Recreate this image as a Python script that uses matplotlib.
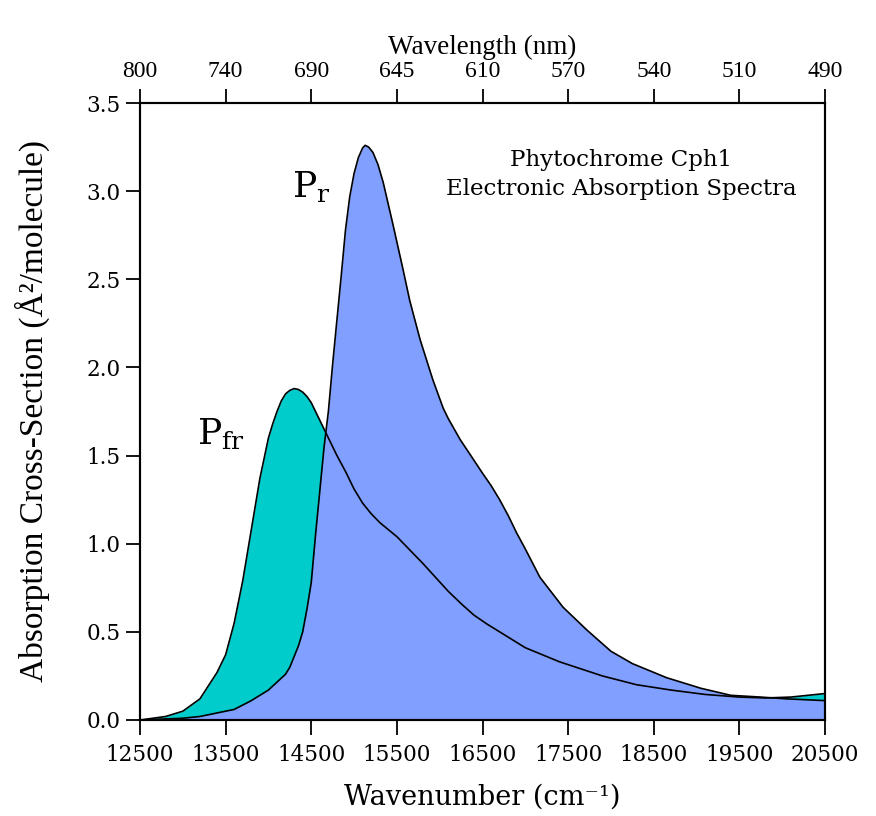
import matplotlib
matplotlib.use("Agg")
import matplotlib.pyplot as plt
import numpy as np

# wavenumber (cm-1) and absorption cross-section (A^2/molecule)
pfr_wn = [12500, 12800, 13000, 13200, 13400, 13500, 13600, 13700, 13800, 13900,
          14000, 14050, 14100, 14150, 14200, 14250, 14300, 14350, 14400, 14450,
          14500, 14600, 14700, 14800, 14900, 15000, 15100, 15200, 15300, 15400,
          15500, 15600, 15700, 15800, 15950, 16100, 16250, 16400, 16550, 16700,
          16850, 17000, 17200, 17400, 17650, 17900, 18300, 18700, 19100, 19500,
          19800, 20100, 20300, 20500]
pfr_val = [0.0, 0.02, 0.05, 0.12, 0.27, 0.37, 0.55, 0.79, 1.08, 1.37,
           1.60, 1.68, 1.75, 1.81, 1.85, 1.87, 1.88, 1.875, 1.86, 1.835,
           1.80, 1.70, 1.60, 1.50, 1.41, 1.31, 1.23, 1.17, 1.12, 1.08,
           1.04, 0.99, 0.94, 0.89, 0.81, 0.73, 0.66, 0.595, 0.545, 0.50,
           0.455, 0.41, 0.37, 0.33, 0.29, 0.25, 0.20, 0.17, 0.145, 0.13,
           0.125, 0.13, 0.14, 0.15]

pr_wn = [12500, 13000, 13200, 13400, 13600, 13800, 14000, 14200, 14250, 14300,
         14350, 14400, 14450, 14500, 14550, 14600, 14650, 14700, 14750, 14850,
         14900, 14950, 15000, 15050, 15100, 15130, 15170, 15220, 15280, 15340,
         15450, 15570, 15650, 15770, 15920, 16040, 16100, 16170, 16240, 16350,
         16500, 16600, 16700, 16800, 16900, 17000, 17170, 17440, 17720, 18000,
         18250, 18650, 19050, 19400, 19750, 20050, 20500]
pr_val = [0.0, 0.01, 0.02, 0.04, 0.06, 0.11, 0.17, 0.26, 0.30, 0.36,
          0.42, 0.50, 0.63, 0.78, 1.05, 1.30, 1.55, 1.75, 2.02, 2.52,
          2.78, 2.97, 3.10, 3.19, 3.245, 3.26, 3.25, 3.22, 3.15, 3.05,
          2.82, 2.56, 2.38, 2.16, 1.93, 1.77, 1.71, 1.65, 1.59, 1.51,
          1.40, 1.33, 1.25, 1.16, 1.06, 0.97, 0.81, 0.64, 0.51, 0.39,
          0.32, 0.24, 0.18, 0.14, 0.13, 0.12, 0.11]

wn_ticks = [12500, 13500, 14500, 15500, 16500, 17500, 18500, 19500, 20500]
nm_labels = ['800', '740', '690', '645', '610', '570', '540', '510', '490']
y_ticks = [0.0, 0.5, 1.0, 1.5, 2.0, 2.5, 3.0, 3.5]

plt.rcParams['font.family'] = 'serif'
plt.rcParams['font.serif'] = ['DejaVu Serif']
plt.rcParams['mathtext.fontset'] = 'dejavuserif'

fig = plt.figure(figsize=(8.76, 8.16), dpi=100)
ax = fig.add_axes([140/876, 96/816, 685/876, 617/816])

ax.fill_between(pfr_wn, 0, pfr_val, color='#00CCCC', lw=0, zorder=1)
ax.fill_between(pr_wn, 0, pr_val, color='#809FFF', lw=0, zorder=2)
ax.plot(pr_wn, pr_val, color='black', lw=1.2, zorder=3)
ax.plot(pfr_wn, pfr_val, color='black', lw=1.2, zorder=3)

ax.set_xlim(12500, 20500)
ax.set_ylim(0, 3.5)
ax.set_xticks(wn_ticks)
ax.set_xticklabels([str(w) for w in wn_ticks])
ax.set_yticks(y_ticks)
ax.set_yticklabels(['%.1f' % v for v in y_ticks])

for s in ax.spines.values():
    s.set_linewidth(1.5)
ax.tick_params(axis='x', direction='out', length=11, width=1.3, labelsize=15.5, pad=6)
ax.tick_params(axis='y', direction='out', length=10, width=1.3, labelsize=15.5, pad=4)

ax.set_xlabel('Wavenumber (cm⁻¹)', fontsize=19.5, labelpad=13)
ax.set_ylabel('Absorption Cross-Section (Å²/molecule)', fontsize=24,
              family='Liberation Serif', labelpad=26)

top = ax.twiny()
top.set_xlim(ax.get_xlim())
top.set_xticks(wn_ticks)
top.set_xticklabels(nm_labels)
top.tick_params(axis='x', direction='out', length=10, width=1.3, labelsize=17, pad=5)
for lab in top.get_xticklabels():
    lab.set_family('Liberation Serif')
top.set_xlabel('Wavelength (nm)', fontsize=19.5, family='Liberation Serif', labelpad=5)
for s in top.spines.values():
    s.set_linewidth(1.5)

ax.text(0.702, 0.884, 'Phytochrome Cph1\nElectronic Absorption Spectra',
        transform=ax.transAxes, ha='center', va='center', fontsize=16.5,
        linespacing=1.45)
ax.text(14500, 3.02, r'$\mathrm{P_r}$', fontsize=26, ha='center', va='center')
ax.text(13450, 1.62, r'$\mathrm{P_{fr}}$', fontsize=26, ha='center', va='center')

fig.savefig('out.png', dpi=100, facecolor='white')
